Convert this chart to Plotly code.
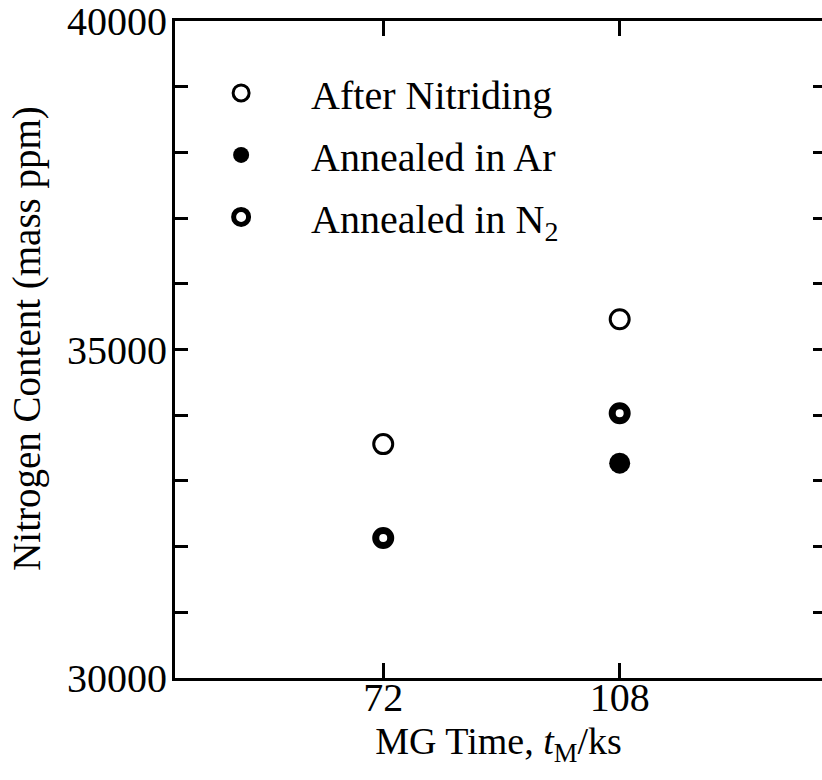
import plotly.graph_objects as go

# ---- data ----
mg_time_after = [72, 108]
n_after = [33560, 35460]

mg_time_ar = [108]
n_ar = [33270]

mg_time_n2 = [72, 108]
n_n2 = [32130, 34030]

x_ticks = [72, 108]
series_names = ["After Nitriding", "Annealed in Ar", "Annealed in N<sub>2</sub>"]
y_title = "Nitrogen Content (mass ppm)"
x_title = "MG Time, <i>t</i><sub>M</sub>/ks"

FONT = "Times New Roman, Liberation Serif, DejaVu Serif, serif"
BLACK = "black"

fig = go.Figure()

fig.add_trace(go.Scatter(
    x=mg_time_after, y=n_after, mode="markers", name=series_names[0],
    legendgroup="a",
    marker=dict(symbol="circle", size=19, color="white",
                line=dict(color=BLACK, width=3)),
))
fig.add_trace(go.Scatter(
    x=mg_time_ar, y=n_ar, mode="markers", name=series_names[1],
    legendgroup="b",
    marker=dict(symbol="circle", size=21, color=BLACK,
                line=dict(color=BLACK, width=0)),
))
fig.add_trace(go.Scatter(
    x=mg_time_n2, y=n_n2, mode="markers", name=series_names[2],
    legendgroup="c",
    marker=dict(symbol="circle", size=15, color="white",
                line=dict(color=BLACK, width=7)),
))
# dummy trace for right-hand tick axis
fig.add_trace(go.Scatter(x=[], y=[], yaxis="y2", showlegend=False,
                         hoverinfo="skip"))

fig.update_layout(
    width=822, height=780,
    margin=dict(l=175, r=0, t=21, b=102, autoexpand=False),
    paper_bgcolor="white", plot_bgcolor="white",
    font=dict(family=FONT, size=40, color=BLACK),
    showlegend=True,
    legend=dict(
        x=-0.006, y=0.94, xanchor="left", yanchor="top",
        bgcolor="rgba(0,0,0,0)", borderwidth=0,
        font=dict(family=FONT, size=40, color=BLACK),
        itemwidth=130, tracegroupgap=7,
    ),
    xaxis=dict(
        range=[40.3, 138.8], automargin=False,
        tickvals=x_ticks, ticktext=[str(v) for v in x_ticks],
        ticks="inside", ticklen=15, tickwidth=2.5, tickcolor=BLACK,
        showline=True, linewidth=3, linecolor=BLACK, mirror="ticks",
        showgrid=False, zeroline=False, ticklabelstandoff=-18,
        tickfont=dict(family=FONT, size=40, color=BLACK),
        title=dict(text=x_title,
                   font=dict(family=FONT, size=38, color=BLACK),
                   standoff=7),
    ),
    yaxis=dict(
        range=[30000, 40000], automargin=False,
        tickmode="linear", tick0=30000, dtick=5000, tickformat="d",
        ticks="inside", ticklen=13, tickwidth=2.5, tickcolor=BLACK,
        showline=True, linewidth=3, linecolor=BLACK, mirror=False,
        showgrid=False, zeroline=False, ticklabeloverflow="allow",
        ticklabelstandoff=-3,
        tickfont=dict(family=FONT, size=40, color=BLACK),
        minor=dict(tickmode="linear", tick0=30000, dtick=1000,
                   ticks="inside", ticklen=13, tickwidth=2.5,
                   tickcolor=BLACK, showgrid=False),
    ),
    yaxis2=dict(
        range=[30000, 40000], overlaying="y", side="right", anchor="x",
        automargin=False,
        tickmode="linear", tick0=30000, dtick=1000,
        ticks="inside", ticklen=9, tickwidth=2.5, tickcolor=BLACK,
        showline=False, showgrid=False, zeroline=False,
        showticklabels=False,
    ),
    annotations=[dict(
        text=y_title, textangle=-90, showarrow=False,
        xref="paper", yref="paper", x=-0.229, y=0.5175,
        xanchor="center", yanchor="middle",
        font=dict(family=FONT, size=39, color=BLACK),
    )],
)

fig.write_html("out.html")
